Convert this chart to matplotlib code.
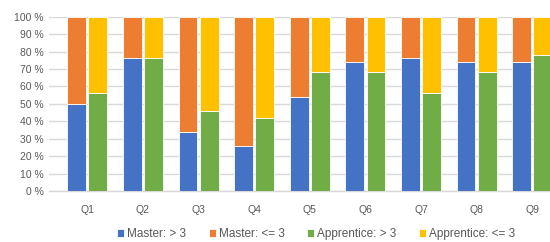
import matplotlib
matplotlib.use("Agg")
import matplotlib.pyplot as plt
import numpy as np

categories = ["Q1", "Q2", "Q3", "Q4", "Q5", "Q6", "Q7", "Q8", "Q9"]
master_gt3 = [50, 76, 34, 26, 54, 74, 76, 74, 74]
master_le3 = [100 - v for v in master_gt3]
apprentice_gt3 = [56, 76, 46, 42, 68, 68, 56, 68, 78]
apprentice_le3 = [100 - v for v in apprentice_gt3]

blue = "#4472C4"
orange = "#ED7D31"
green = "#70AD47"
yellow = "#FFC000"
text_color = "#595959"
grid_color = "#D9D9D9"

plt.rcParams["font.family"] = ["Liberation Sans", "DejaVu Sans"]

fig = plt.figure(figsize=(5.5, 2.42), dpi=100)
ax = fig.add_axes([49 / 550, 0.2107, 1 - 49 / 550, 0.7205])

x = np.arange(len(categories))
w = 0.34
off = 0.19
kw = dict(width=w, edgecolor="white", linewidth=0.6, zorder=3)

ax.bar(x - off, master_gt3, color=blue, label="Master: > 3", **kw)
ax.bar(x - off, master_le3, bottom=master_gt3, color=orange, label="Master: <= 3", **kw)
ax.bar(x + off, apprentice_gt3, color=green, label="Apprentice: > 3", **kw)
ax.bar(x + off, apprentice_le3, bottom=apprentice_gt3, color=yellow, label="Apprentice: <= 3", **kw)

ax.set_xlim(-0.69, 8.32)
ax.set_ylim(0, 100)
ax.set_yticks(range(0, 101, 10))
ax.set_yticklabels([f"{v} %" for v in range(0, 101, 10)])
ax.set_xticks(x)
ax.set_xticklabels(categories)
ax.yaxis.grid(True, color=grid_color, linewidth=1.0, zorder=0)
ax.set_axisbelow(True)
for s in ["top", "right", "left"]:
    ax.spines[s].set_visible(False)
ax.spines["bottom"].set_color(grid_color)
ax.spines["bottom"].set_linewidth(1.0)
ax.tick_params(axis="both", length=0, labelsize=7.5, colors=text_color)
ax.tick_params(axis="x", pad=10)
ax.tick_params(axis="y", pad=4)

fig.legend(loc="center", bbox_to_anchor=(0.575, 0.033), ncol=4, frameon=False,
           fontsize=8.5, handlelength=0.6, handleheight=0.6, handletextpad=0.25,
           columnspacing=1.9, labelcolor=text_color)

fig.savefig("out.png", dpi=100)
